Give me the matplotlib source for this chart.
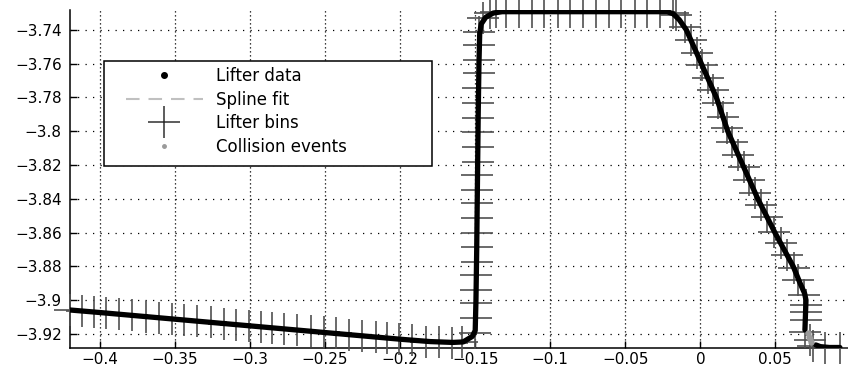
import matplotlib
matplotlib.use("Agg")
import matplotlib.pyplot as plt
from matplotlib.lines import Line2D
from matplotlib.patches import Rectangle

# lifter track
lifter_x = [-0.420, -0.400, -0.300, -0.200, -0.180, -0.165, -0.158, -0.152, -0.150,
            -0.1495, -0.149, -0.1485, -0.148, -0.1475, -0.147, -0.146, -0.143, -0.138,
            -0.132, -0.100, -0.050, -0.022, -0.018, -0.014, -0.0093, 0.0007, 0.0107,
            0.0183, 0.0283, 0.0383, 0.0497, 0.0619, 0.0665, 0.0695, 0.0704, 0.0700, 0.0697]
lifter_y = [-3.9058, -3.9073, -3.9152, -3.9231, -3.9245, -3.9250, -3.9247, -3.9215, -3.9180,
            -3.9000, -3.8700, -3.8300, -3.7900, -3.7600, -3.7420, -3.7365, -3.7325, -3.7300,
            -3.7292, -3.7292, -3.7292, -3.7292, -3.7305, -3.7340, -3.7400, -3.7600, -3.7800,
            -3.8000, -3.8200, -3.8400, -3.8600, -3.8800, -3.8900, -3.8960, -3.9000, -3.9100, -3.9176]
lifter_end_x = [0.0770, 0.0800, 0.0860, 0.0930]
lifter_end_y = [-3.9265, -3.9275, -3.9280, -3.9280]

spline_gap_x = [0.0710, 0.0735]
spline_gap_y = [-3.9200, -3.9240]

coll_x = [0.0715, 0.0725, 0.0732, 0.0740]
coll_y = [-3.9195, -3.9215, -3.9230, -3.9245]

# bins along the track
bins_bottom_x = [-0.4198, -0.4123, -0.4043, -0.3963, -0.3876, -0.3789, -0.3696, -0.3609,
                 -0.3522, -0.3442, -0.3356, -0.3262, -0.3175, -0.3095, -0.3008, -0.2928,
                 -0.2855, -0.2775, -0.2688, -0.2595, -0.2508, -0.2428, -0.2341, -0.2254,
                 -0.2161, -0.2087, -0.2007, -0.1921, -0.1827, -0.1740, -0.1653, -0.1587]
bins_bottom_y = [-3.9057, -3.9063, -3.9070, -3.9076, -3.9083, -3.9090, -3.9097, -3.9104,
                 -3.9111, -3.9117, -3.9124, -3.9131, -3.9138, -3.9144, -3.9151, -3.9158,
                 -3.9163, -3.9170, -3.9177, -3.9184, -3.9191, -3.9197, -3.9204, -3.9211,
                 -3.9218, -3.9224, -3.9230, -3.9237, -3.9245, -3.9249, -3.9252, -3.9250]
bins_vert_x = [-0.1475, -0.1476, -0.1477, -0.1478, -0.1479, -0.1480, -0.1481, -0.1482,
               -0.1483, -0.1484, -0.1485, -0.1486, -0.1487, -0.1488, -0.1489, -0.1490,
               -0.1491, -0.1492, -0.1493, -0.1494, -0.1496, -0.1500]
bins_vert_y = [-3.7410, -3.7489, -3.7578, -3.7656, -3.7745, -3.7834, -3.7923, -3.8002,
               -3.8091, -3.8180, -3.8259, -3.8347, -3.8426, -3.8515, -3.8604, -3.8683,
               -3.8772, -3.8851, -3.8940, -3.9018, -3.9107, -3.9194]
bins_top_x = [-0.1445, -0.1400, -0.1361, -0.1294, -0.1206, -0.1121, -0.1039, -0.0950,
              -0.0867, -0.0783, -0.0694, -0.0609, -0.0527, -0.0438, -0.0356, -0.0271, -0.0182]
bins_top_y = [-3.7330, -3.7300, -3.7292, -3.7292, -3.7292, -3.7292, -3.7292, -3.7292,
              -3.7292, -3.7292, -3.7292, -3.7292, -3.7292, -3.7292, -3.7292, -3.7292, -3.7300]
bins_slope_x = [-0.0160, -0.0105, -0.0060, -0.0024, 0.0011, 0.0050, 0.0085, 0.0120,
                0.0150, 0.0176, 0.0214, 0.0253, 0.0288, 0.0327, 0.0367, 0.0401, 0.0441,
                0.0493, 0.0535, 0.0577, 0.0622, 0.0653, 0.0692, 0.0706, 0.0705, 0.0702, 0.0700]
bins_slope_y = [-3.7311, -3.7380, -3.7459, -3.7537, -3.7607, -3.7686, -3.7755, -3.7834,
                -3.7913, -3.7982, -3.8061, -3.8140, -3.8210, -3.8288, -3.8367, -3.8436,
                -3.8506, -3.8594, -3.8663, -3.8732, -3.8811, -3.8880, -3.8969, -3.9028,
                -3.9070, -3.9118, -3.9189]
bins_end_x = [0.0730, 0.0752, 0.0830, 0.0931]
bins_end_y = [-3.9236, -3.9270, -3.9285, -3.9285]

xticks = [-0.4, -0.35, -0.3, -0.25, -0.2, -0.15, -0.1, -0.05, 0, 0.05]
yticks = [-3.92, -3.9, -3.88, -3.86, -3.84, -3.82, -3.8, -3.78, -3.76, -3.74]
labels = ["Lifter data", "Spline fit", "Lifter bins", "Collision events"]

plt.rcParams['font.family'] = ['DejaVu Sans']

fig = plt.figure(figsize=(8.48, 3.68), dpi=100)
ax = fig.add_axes([70 / 848, 20 / 368, 778 / 848, 338 / 368])

bin_col = '#505050'
spline_x = lifter_x + spline_gap_x + lifter_end_x
spline_y = lifter_y + spline_gap_y + lifter_end_y
ax.plot(spline_x, spline_y, color='#c0c0c0', lw=1.5, dashes=(6.5, 4.3), zorder=2)
ax.plot(bins_bottom_x + bins_vert_x + bins_top_x + bins_slope_x + bins_end_x,
        bins_bottom_y + bins_vert_y + bins_top_y + bins_slope_y + bins_end_y,
        linestyle='none', marker='+', markersize=23, markeredgewidth=1.2,
        color=bin_col, clip_on=False, zorder=3)
ax.plot(lifter_x, lifter_y, color='black', lw=3.8, solid_capstyle='round',
        solid_joinstyle='round', zorder=4)
ax.plot(lifter_end_x, lifter_end_y, color='black', lw=3.8, solid_capstyle='round', zorder=4)
ax.plot(coll_x, coll_y, linestyle='none', marker='o', markersize=3.5,
        color='#9a9a9a', zorder=4.2)

ax.set_xlim(-0.42, 0.0984)
ax.set_ylim(-3.9283, -3.7282)
ax.set_xticks(xticks)
ax.set_yticks(yticks)
ax.set_xticklabels([('%g' % v).replace('-', '\u2212') for v in xticks])
ax.set_yticklabels([('%g' % v).replace('-', '\u2212') for v in yticks])
ax.tick_params(direction='in', length=5, width=1, labelsize=11)
ax.tick_params(axis='y', pad=6)
ax.tick_params(axis='x', pad=3)
for s in ['top', 'right']:
    ax.spines[s].set_visible(False)
for s in ['left', 'bottom']:
    ax.spines[s].set_linewidth(1.1)

ax.grid(axis='x', color='black', lw=0.9, linestyle=(0, (1, 2.2)))
ax.grid(axis='y', color='black', lw=0.9, linestyle=(0, (1, 5)))
ax.set_axisbelow(True)

# legend box, MATLAB style (wide frame)
box = Rectangle((0.0437, 0.5385), 0.4216, 0.3106, transform=ax.transAxes,
                facecolor='white', edgecolor='black', lw=1.1, zorder=6)
ax.add_patch(box)
handles = [
    Line2D([], [], linestyle='none', marker='.', markersize=8, color='black'),
    Line2D([], [], color='#c0c0c0', lw=1.5, dashes=(6.5, 4.3)),
    Line2D([], [], linestyle='none', marker='+', markersize=23, markeredgewidth=1.1, color='#303030'),
    Line2D([], [], linestyle='none', marker='o', markersize=2.5, color='#9a9a9a'),
]
leg = ax.legend(handles, labels, loc='upper left', bbox_to_anchor=(0.072, 0.831),
                frameon=False, borderpad=0, borderaxespad=0, fontsize=12,
                handlelength=4.6, handletextpad=0.82, labelspacing=0.33, numpoints=1)
leg.set_zorder(7)

fig.savefig('out.png', dpi=100)
